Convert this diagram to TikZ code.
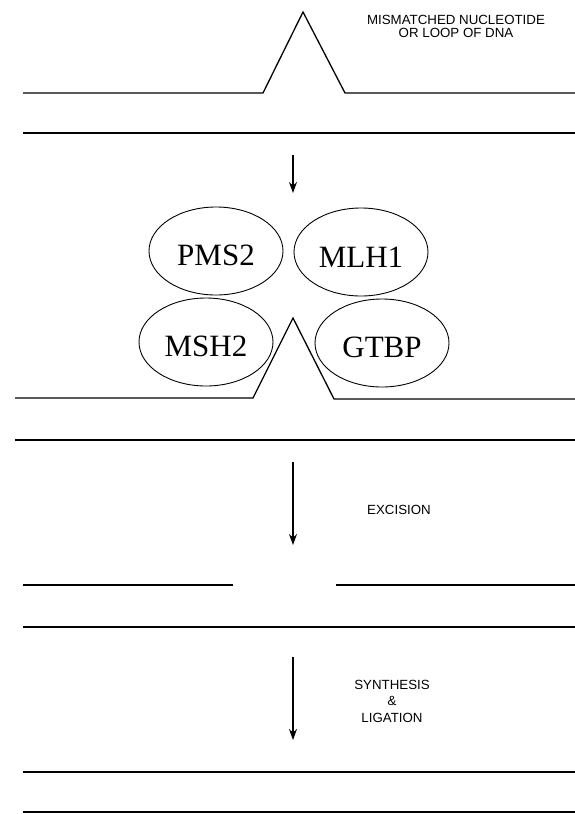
\documentclass[tikz,border=0pt]{standalone}
\usepackage{fontspec}
\setmainfont{Liberation Serif}
\newfontfamily\lblfont{Liberation Sans}
\usetikzlibrary{arrows.meta,shapes.geometric}
\begin{document}
\begin{tikzpicture}[x=1pt,y=-1pt,
  strand/.style={line width=1.3pt},
  prot/.style={draw,ellipse,line width=.9pt,minimum width=134pt,minimum height=88pt,inner sep=0pt,text height=30pt,font=\fontsize{31}{31}\selectfont},
  steplabel/.style={font=\lblfont\fontsize{13.3}{16.5}\selectfont,align=center},
  down/.style={-{Stealth[length=11pt,width=8pt]},line width=1.2pt}]
\useasboundingbox(0,0)rectangle(575,814);
% mismatched strand
\draw[strand](23,93)--(263,93)--(303,12)--(345,93)--(575,93);
\draw[strand](23,133)--(575,133);
\node[steplabel,font=\lblfont\fontsize{13.3}{13}\selectfont](mis)at(456,26){MISMATCHED NUCLEOTIDE\\OR LOOP OF DNA};
% repair complex
\node[prot](pms)at(216,251){PMS2};
\node[prot](mlh)at(361,252){MLH1};
\node[prot](msh)at(206,342){MSH2};
\node[prot](gtbp)at(382,343){GTBP};
\draw[strand](15,398)--(253,398)--(293,318)--(334,399)--(575,399);
\draw[strand](15,440)--(575,440);
% excision
\node[steplabel](exc)at(399,510){EXCISION};
\draw[strand](23,585)--(233,585);\draw[strand](336,585)--(575,585);
\draw[strand](23,627)--(575,627);
% synthesis and ligation
\node[steplabel](syn)at(392,701){SYNTHESIS\\\&\\LIGATION};
\draw[strand](23,772)--(575,772);
\draw[strand](23,812)--(575,812);
% arrows
\foreach \n/\ya/\yb in {a/155/193,b/462/545,c/657/740}{\coordinate(\n s)at(293,\ya);\coordinate(\n e)at(293,\yb);\draw[down](\n s)--(\n e);}
\end{tikzpicture}
\end{document}
